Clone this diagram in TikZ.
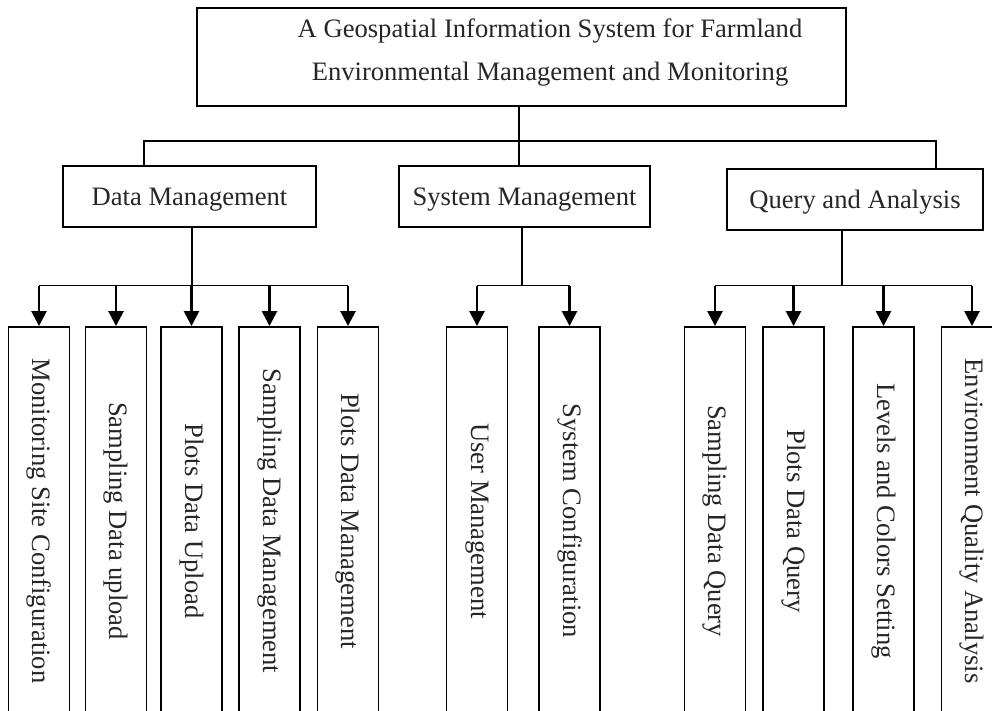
\documentclass[tikz,border=0pt]{standalone}
\usepackage{fontspec}
\setmainfont{Liberation Serif}
\usetikzlibrary{arrows.meta}
\begin{document}
\begin{tikzpicture}[x=1pt,y=-1pt,
  every node/.style={font=\fontsize{26.6}{43}\selectfont, text=black!85},
  topbox/.style={draw, line width=1.1pt, minimum width=649pt, minimum height=98pt, inner sep=0pt},
  midbox/.style={draw, line width=1.9pt, minimum height=61pt, inner sep=0pt, text depth=0pt},
  leafbox/.style={draw, line width=1.9pt, minimum width=61pt, minimum height=388pt, inner sep=0pt},
  bar/.style={line width=1.5pt},
  arr/.style={line width=2.6pt, -{Triangle[width=15pt,length=15pt]}}]
\path[use as bounding box, clip] (0,0) rectangle (992,711);

% top
\node[topbox] (top) at (521.5,57) {};
\node[align=center, inner sep=0pt] (title) at (550,53)
  {A Geospatial Information System for Farmland\\Environmental Management and Monitoring};

% level 2
\node[midbox, minimum width=253pt] (dm) at (189.5,196.5) {Data Management};
\node[midbox, minimum width=251pt] (sm) at (524.5,196.5) {System Management};
\node[midbox, minimum width=256pt] (qa) at (855,199.5) {Query and Analysis};

% leaves
\node[leafbox] (l1) at (39,521) {\rotatebox{-90}{Monitoring Site Configuration}};
\node[leafbox] (l2) at (116,521) {\rotatebox{-90}{Sampling Data upload}};
\node[leafbox] (l3) at (191.5,521) {\rotatebox{-90}{Plots Data Upload}};
\node[leafbox] (l4) at (269.5,521) {\rotatebox{-90}{Sampling Data Management}};
\node[leafbox] (l5) at (348,521) {\rotatebox{-90}{Plots Data Management}};
\node[leafbox] (l6) at (477,521) {\rotatebox{-90}{User Management}};
\node[leafbox] (l7) at (569.5,521) {\rotatebox{-90}{System Configuration}};
\node[leafbox] (l8) at (715,521) {\rotatebox{-90}{Sampling Data Query}};
\node[leafbox] (l9) at (793.5,521) {\rotatebox{-90}{Plots Data Query}};
\node[leafbox] (l10) at (883.5,521) {\rotatebox{-90}{Levels and Colors Setting}};
\node[leafbox] (l11) at (972,521) {\rotatebox{-90}{Environment Quality Analysis}};

% level 1 connectors
\coordinate (b1L) at (144,141);
\coordinate (b1M) at (519,141);
\coordinate (b1R) at (936,141);
\draw[line width=1.3pt] (top.south -| b1M) -- (b1M);
\draw[line width=1.9pt] (b1L |- dm.north) -- (b1L) -- (b1R) -- (b1R |- qa.north);
\draw[line width=1.3pt] (b1M) -- (b1M |- sm.north);

% level 2 connectors
\coordinate (b2a) at (192,285.5);
\coordinate (b2b) at (522,285.5);
\coordinate (b2c) at (842,285.5);
\draw[bar] (dm.south -| b2a) -- (b2a);
\draw[bar] (sm.south -| b2b) -- (b2b);
\draw[bar] (qa.south -| b2c) -- (b2c);
\draw[bar] (b2a -| l1) -- (b2a -| l5);
\draw[bar] (b2b -| l6) -- (b2b -| l7);
\draw[bar] (b2c -| l8) -- (b2c -| l11);
\foreach \n in {l1,l2,l3,l4,l5} \draw[arr] (b2a -| \n) -- (\n.north);
\foreach \n in {l6,l7} \draw[arr] (b2b -| \n) -- (\n.north);
\foreach \n in {l8,l9,l10,l11} \draw[arr] (b2c -| \n) -- (\n.north);
\end{tikzpicture}
\end{document}
